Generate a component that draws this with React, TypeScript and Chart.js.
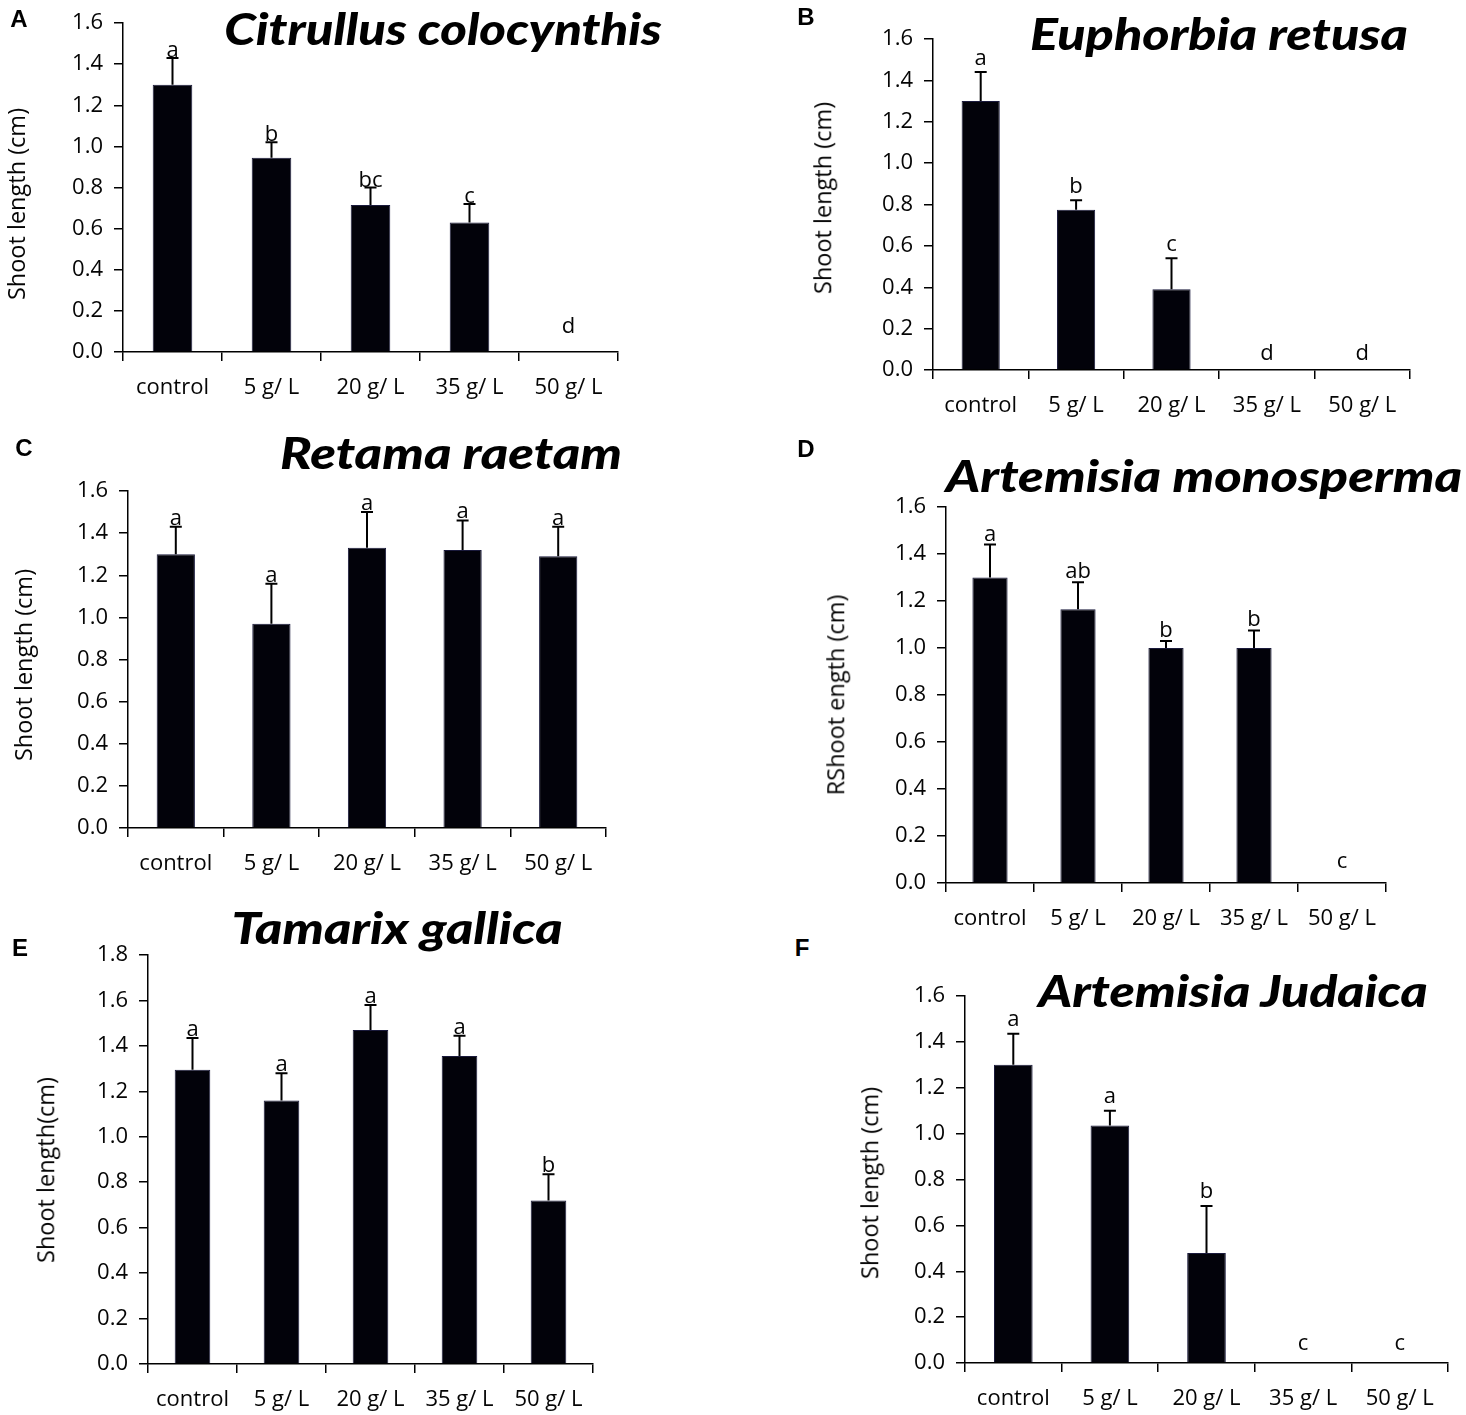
import React, { useEffect, useLayoutEffect, useRef } from "react";
import { Chart, registerables } from "chart.js";

Chart.register(...registerables);

// ---------- data ----------
const categories = ["control", "5 g/ L", "20 g/ L", "35 g/ L", "50 g/ L"];

const citrullusMeans = [1.3, 0.945, 0.715, 0.63, 0];
const citrullusErrors = [0.13, 0.075, 0.085, 0.09, 0];
const citrullusLetters = ["a", "b", "bc", "c", "d"];

const euphorbiaMeans = [1.3, 0.775, 0.39, 0, 0];
const euphorbiaErrors = [0.14, 0.045, 0.15, 0, 0];
const euphorbiaLetters = ["a", "b", "c", "d", "d"];

const retamaMeans = [1.3, 0.97, 1.33, 1.32, 1.29];
const retamaErrors = [0.13, 0.19, 0.17, 0.14, 0.14];
const retamaLetters = ["a", "a", "a", "a", "a"];

const monospermaMeans = [1.3, 1.165, 1.0, 1.0, 0];
const monospermaErrors = [0.14, 0.115, 0.03, 0.075, 0];
const monospermaLetters = ["a", "ab", "b", "b", "c"];

const tamarixMeans = [1.295, 1.16, 1.47, 1.355, 0.72];
const tamarixErrors = [0.14, 0.12, 0.11, 0.09, 0.115];
const tamarixLetters = ["a", "a", "a", "a", "b"];

const judaicaMeans = [1.3, 1.035, 0.48, 0, 0];
const judaicaErrors = [0.135, 0.065, 0.205, 0, 0];
const judaicaLetters = ["a", "a", "b", "c", "c"];

const yMaxDefault = 1.6;
const yMaxTamarix = 1.8;
const yStep = 0.2;

// ---------- styles / layout ----------
const BAR_COLOR = "#02020a";
const BAR_EDGE = "#1a1a3c";
const TEXT_COLOR = "#050505";
const TICK_FONT = "'Open Sans', 'Noto Sans', sans-serif";
const TITLE_FONT = "Lato, 'Open Sans', sans-serif";

const PAD_L = 115;
const PAD_R = 12;
const PAD_T = 32;
const PAD_B = 58;

type PanelCfg = {
  id: string;
  title: string;
  yTitle: string;
  means: number[];
  errors: number[];
  letters: string[];
  yMax: number;
  L: number;
  R: number;
  T: number;
  B: number;
  gap: number;
  zeroGap: number;
  titleX: number;
  titleY: number;
  titleW: number;
  letterX: number;
  letterY: number;
  yTitleX: number;
  yTitleY: number;
};

const panels: PanelCfg[] = [
  {
    id: "A", title: "Citrullus colocynthis", yTitle: "Shoot length (cm)",
    means: citrullusMeans, errors: citrullusErrors, letters: citrullusLetters, yMax: yMaxDefault,
    L: 123, R: 618, T: 23, B: 352, gap: 1, zeroGap: 19,
    titleX: 443, titleY: 28, titleW: 437, letterX: 19, letterY: 19, yTitleX: 17, yTitleY: 204,
  },
  {
    id: "B", title: "Euphorbia retusa", yTitle: "Shoot length (cm)",
    means: euphorbiaMeans, errors: euphorbiaErrors, letters: euphorbiaLetters, yMax: yMaxDefault,
    L: 933, R: 1410, T: 39, B: 370, gap: 7, zeroGap: 10,
    titleX: 1219, titleY: 33, titleW: 378, letterX: 806, letterY: 17, yTitleX: 823, yTitleY: 198,
  },
  {
    id: "C", title: "Retama raetam", yTitle: "Shoot length (cm)",
    means: retamaMeans, errors: retamaErrors, letters: retamaLetters, yMax: yMaxDefault,
    L: 128, R: 606, T: 491, B: 828, gap: 2, zeroGap: 14,
    titleX: 451, titleY: 452, titleW: 342, letterX: 24, letterY: 448, yTitleX: 24, yTitleY: 665,
  },
  {
    id: "D", title: "Artemisia monosperma", yTitle: "RShoot ength (cm)",
    means: monospermaMeans, errors: monospermaErrors, letters: monospermaLetters, yMax: yMaxDefault,
    L: 946, R: 1386, T: 507, B: 883, gap: 4, zeroGap: 15,
    titleX: 1204, titleY: 475, titleW: 516, letterX: 806, letterY: 449, yTitleX: 836, yTitleY: 695,
  },
  {
    id: "E", title: "Tamarix gallica", yTitle: "Shoot length(cm)",
    means: tamarixMeans, errors: tamarixErrors, letters: tamarixLetters, yMax: yMaxTamarix,
    L: 148, R: 593, T: 955, B: 1364, gap: 2, zeroGap: 14,
    titleX: 397, titleY: 927, titleW: 331, letterX: 20, letterY: 948, yTitleX: 46, yTitleY: 1170,
  },
  {
    id: "F", title: "Artemisia Judaica", yTitle: "Shoot length (cm)",
    means: judaicaMeans, errors: judaicaErrors, letters: judaicaLetters, yMax: yMaxDefault,
    L: 965, R: 1448, T: 996, B: 1363, gap: 8, zeroGap: 13,
    titleX: 1233, titleY: 990, titleW: 390, letterX: 802, letterY: 948, yTitleX: 870, yTitleY: 1183,
  },
];

// ---------- plugin: error bars + significance letters ----------
const errorBarPlugin = {
  id: "errorBars",
  afterDatasetsDraw(chart: any, _args: any, opts: any) {
    const { ctx } = chart;
    const meta = chart.getDatasetMeta(0);
    const yScale = chart.scales.y;
    const values = chart.data.datasets[0].data as number[];
    ctx.save();
    meta.data.forEach((bar: any, i: number) => {
      const v = values[i];
      const e = opts.errors[i] || 0;
      const x = bar.x;
      const yBase = yScale.getPixelForValue(v);
      const yTop = yScale.getPixelForValue(v + e);
      if (e > 0) {
        ctx.strokeStyle = "#000";
        ctx.lineWidth = 2;
        ctx.beginPath();
        ctx.moveTo(x, yBase);
        ctx.lineTo(x, yTop);
        ctx.moveTo(x - 6, yTop);
        ctx.lineTo(x + 6, yTop);
        ctx.stroke();
      }
      const ly = v > 0 ? yTop - opts.gap : yScale.getPixelForValue(0) - opts.zeroGap;
      ctx.fillStyle = TEXT_COLOR;
      ctx.font = `22px ${TICK_FONT}`;
      ctx.textAlign = "center";
      ctx.textBaseline = "alphabetic";
      ctx.fillText(opts.letters[i], x, ly);
    });
    ctx.restore();
  },
};

function Panel({ p }: { p: PanelCfg }) {
  const ref = useRef<HTMLCanvasElement>(null);
  const w = p.R - p.L + PAD_L + PAD_R;
  const h = p.B - p.T + PAD_T + PAD_B;

  useEffect(() => {
    const canvas = ref.current;
    if (!canvas) return;
    const chart = new Chart(canvas, {
      type: "bar",
      data: {
        labels: categories,
        datasets: [
          {
            data: p.means,
            backgroundColor: BAR_COLOR,
            borderColor: BAR_EDGE,
            borderWidth: 1,
            barPercentage: 0.4,
            categoryPercentage: 1,
          },
        ],
      },
      options: {
        animation: false,
        responsive: false,
        maintainAspectRatio: false,
        layout: { padding: { top: PAD_T, right: PAD_R, left: 0, bottom: 0 } },
        scales: {
          x: {
            type: "category",
            grid: {
              display: true,
              drawOnChartArea: false,
              drawTicks: true,
              tickLength: 9,
              color: "#000",
              lineWidth: 1.5,
              offset: true,
            },
            border: { display: true, color: "#000", width: 1.5 },
            ticks: {
              color: TEXT_COLOR,
              font: { family: TICK_FONT, size: 22 },
              padding: 14,
              maxRotation: 0,
              autoSkip: false,
            },
            afterFit: (s: any) => {
              s.height = PAD_B;
            },
          },
          y: {
            type: "linear",
            min: 0,
            max: p.yMax,
            grid: {
              display: true,
              drawOnChartArea: false,
              drawTicks: true,
              tickLength: 9,
              color: "#000",
              lineWidth: 1.5,
            },
            border: { display: true, color: "#000", width: 1.5 },
            ticks: {
              stepSize: yStep,
              color: TEXT_COLOR,
              font: { family: TICK_FONT, size: 22 },
              padding: 11,
              callback: (v: any) => Number(v).toFixed(1),
            },
            afterFit: (s: any) => {
              s.width = PAD_L;
            },
          },
        },
        plugins: {
          legend: { display: false },
          tooltip: { enabled: false },
          title: { display: false },
          errorBars: { errors: p.errors, letters: p.letters, gap: p.gap, zeroGap: p.zeroGap },
        } as any,
      },
      plugins: [errorBarPlugin],
    });
    return () => chart.destroy();
  }, []);

  return (
    <canvas
      ref={ref}
      width={w}
      height={h}
      style={{ position: "absolute", left: p.L - PAD_L, top: p.T - PAD_T, width: w, height: h }}
    />
  );
}

function FitTitle({ p }: { p: PanelCfg }) {
  const ref = useRef<HTMLDivElement>(null);
  useLayoutEffect(() => {
    const el = ref.current;
    if (!el) return;
    const w = el.offsetWidth || 1;
    el.style.transform = `translate(-50%, -50%) scaleX(${p.titleW / w})`;
  }, []);
  return (
    <div
      ref={ref}
      style={{
        position: "absolute",
        left: p.titleX,
        top: p.titleY,
        transform: "translate(-50%, -50%)",
        whiteSpace: "nowrap",
        fontFamily: TITLE_FONT,
        fontWeight: 900,
        fontStyle: "italic",
        fontSize: 43,
        lineHeight: 1,
        color: "#000",
      }}
    >
      {p.title}
    </div>
  );
}

export default function App() {
  return (
    <div
      style={{
        position: "absolute",
        left: 0,
        top: 0,
        width: 1466,
        height: 1415,
        background: "#fff",
        overflow: "hidden",
      }}
    >
      {panels.map((p) => (
        <Panel key={p.id} p={p} />
      ))}
      {panels.map((p) => (
        <React.Fragment key={p.id + "-txt"}>
          <FitTitle p={p} />
          <div
            style={{
              position: "absolute",
              left: p.letterX,
              top: p.letterY,
              transform: "translate(-50%, -50%)",
              fontFamily: "'Liberation Sans', Arial, sans-serif",
              fontWeight: 700,
              fontSize: 24,
              lineHeight: 1,
              color: "#000",
            }}
          >
            {p.id}
          </div>
          <div
            style={{
              position: "absolute",
              left: p.yTitleX,
              top: p.yTitleY,
              transform: "translate(-50%, -50%) rotate(-90deg)",
              whiteSpace: "nowrap",
              fontFamily: TICK_FONT,
              fontSize: 23.5,
              lineHeight: 1,
              color: TEXT_COLOR,
            }}
          >
            {p.yTitle}
          </div>
        </React.Fragment>
      ))}
    </div>
  );
}
